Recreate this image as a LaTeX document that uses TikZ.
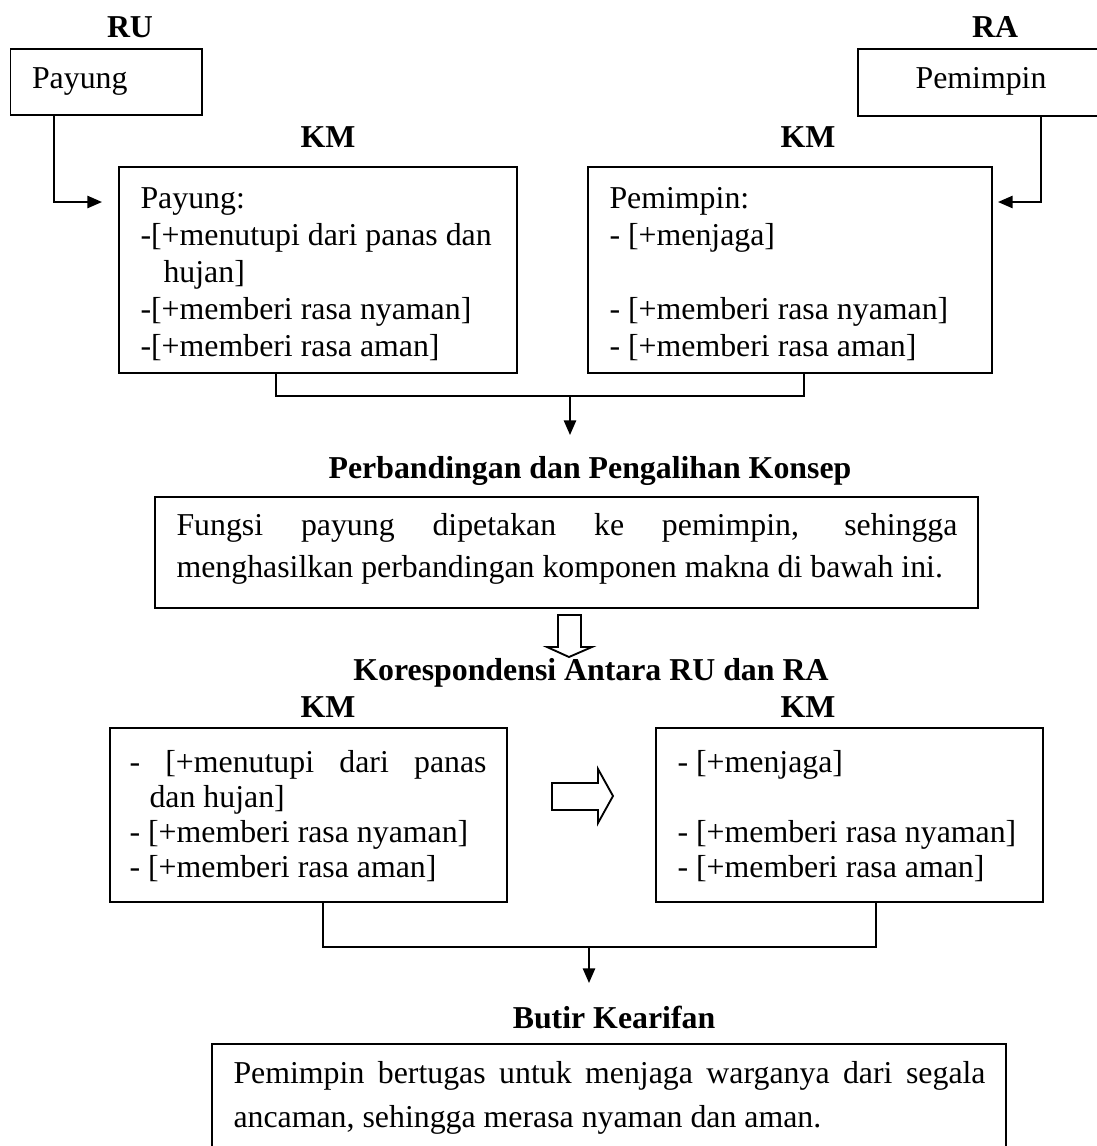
\documentclass[tikz,border=0pt]{standalone}
\usepackage{fontspec}
\setmainfont{Liberation Serif}
\usetikzlibrary{arrows.meta,fit,calc}
\newcommand\bodysize{\fontsize{12pt}{14pt}\selectfont}
\begin{document}
\begin{tikzpicture}[x=0.377pt,y=-0.377pt,
  every node/.style={font=\bodysize},
  box/.style={draw,line width=0.7pt,inner sep=0pt},
  lbl/.style={font=\bodysize\bfseries,anchor=base,inner sep=0pt},
  txt/.style={anchor=base west,inner sep=0pt},
  ctxt/.style={anchor=base,inner sep=0pt},
  conn/.style={line width=0.7pt},
  arr/.style={conn,-{Triangle[length=5.5pt,width=4.6pt]}},
  hollow/.style={draw,line width=0.7pt,fill=white,line join=miter}]
\useasboundingbox (0,0) rectangle (1097,1146);
\clip (0,0) rectangle (1097,1146);

% ---- source and target domains
\node[lbl] (ru-t) at (130,37) {RU};
\node[box,fit={(10.5,49) (202,115)}] (ru) {};
\node[txt] (ru-x) at (31.5,88) {Payung};

\node[lbl] (ra-t) at (995,37) {RA};
\node[box,fit={(858,49) (1110,116)}] (ra) {};
\node[ctxt] (ra-x) at (981,88) {Pemimpin};

% ---- meaning components
\node[lbl] (km1-t) at (328,147) {KM};
\node[box,fit={(119,167) (517,373)}] (km1) {};
\node[txt] at (140,208) {Payung:};
\node[txt] at (140,245) {-[+menutupi dari panas dan};
\node[txt] at (163,282) {hujan]};
\node[txt] at (140,319) {-[+memberi rasa nyaman]};
\node[txt] at (140,356) {-[+memberi rasa aman]};

\node[lbl] (km2-t) at (808,147) {KM};
\node[box,fit={(588,167) (992,373)}] (km2) {};
\node[txt] at (609,208) {Pemimpin:};
\node[txt] at (609,245) {- [+menjaga]};
\node[txt] at (609,319) {- [+memberi rasa nyaman]};
\node[txt] at (609,356) {- [+memberi rasa aman]};

\coordinate (ruin) at (102,202);
\coordinate (rain) at (998,202);
\draw[arr] (ru.south west) ++(44.5,0) |- (ruin);
\draw[arr] (ra.south west) ++(184,0) |- (rain);

% ---- join into the comparison step
\coordinate (j1) at (570,395);
\draw[conn] ($(km1.south west)+(158,0)$) -- ++(0,22) -| ($(km2.south west)+(217,0)$);
\draw[arr] (j1) -- ++(0,40);

\node[lbl] (pk-t) at (590,478) {Perbandingan dan Pengalihan Konsep};
\node[box,fit={(155,497) (978,608)}] (pk) {};
\node[txt] at (176,535) {\makebox[294.4pt][s]{Fungsi payung dipetakan ke pemimpin, sehingga}};
\node[txt] at (176,577) {menghasilkan perbandingan komponen makna di bawah ini.};

\draw[hollow] (558,615) -- (581,615) -- (581,647) -- (592,647) -- (569,657)
  -- (547,647) -- (558,647) -- cycle;

% ---- correspondence
\node[lbl] (kr-t) at (591,680) {Korespondensi Antara RU dan RA};
\node[lbl] (km3-t) at (328,717) {KM};
\node[lbl] (km4-t) at (808,717) {KM};

\node[box,fit={(110,728) (507,902)}] (km3) {};
\node[txt] at (129,772) {\makebox[134.6pt][s]{- [+menutupi dari panas}};
\node[txt] at (149,807) {dan hujan]};
\node[txt] at (129,842) {- [+memberi rasa nyaman]};
\node[txt] at (129,877) {- [+memberi rasa aman]};

\node[box,fit={(656,728) (1043,902)}] (km4) {};
\node[txt] at (677,772) {- [+menjaga]};
\node[txt] at (677,842) {- [+memberi rasa nyaman]};
\node[txt] at (677,877) {- [+memberi rasa aman]};

\draw[hollow] (552,783) -- (598,783) -- (598,769) -- (613,796) -- (598,823)
  -- (598,810) -- (552,810) -- cycle;

\coordinate (j2) at (589,946);
\draw[conn] ($(km3.south west)+(214,0)$) -- ++(0,44) -| ($(km4.south west)+(221,0)$);
\draw[arr] (j2) -- ++(0,37);

% ---- conclusion
\node[lbl] (bk-t) at (614,1028) {Butir Kearifan};
\node[box,fit={(212,1044) (1006,1170)}] (bk) {};
\node[txt] at (233,1083) {\makebox[283.5pt][s]{Pemimpin bertugas untuk menjaga warganya dari segala}};
\node[txt] at (233,1127) {ancaman, sehingga merasa nyaman dan aman.};
\end{tikzpicture}
\end{document}
